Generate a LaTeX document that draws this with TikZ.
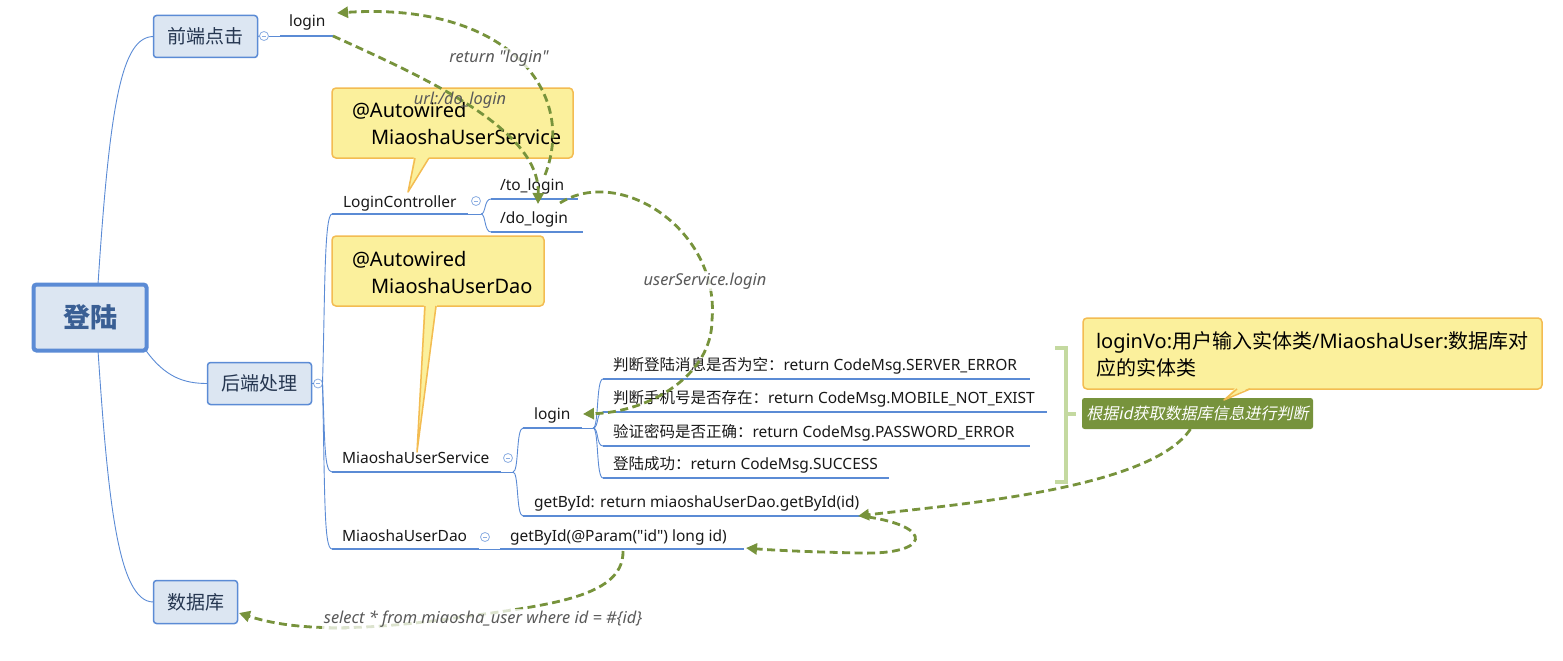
\documentclass[tikz,border=0pt]{standalone}
\usepackage{fontspec}
\setmainfont{Noto Sans}[Ligatures=TeXOff]
\newfontfamily\cjk{Noto Sans CJK SC}
\newfontfamily\cjkit[FakeSlant=0.2]{Noto Sans CJK SC}
\usetikzlibrary{arrows.meta}
\definecolor{bl}{HTML}{5B8BD5}
\definecolor{boxfill}{HTML}{DCE6F2}
\definecolor{roottxt}{HTML}{3A5F94}
\definecolor{boxtxt}{HTML}{253650}
\definecolor{gr}{HTML}{77933C}
\definecolor{callfill}{HTML}{FBF09C}
\definecolor{callline}{HTML}{F3BC52}
\definecolor{brk}{HTML}{C4D9A0}
\definecolor{lblgray}{HTML}{595959}
\newcommand{\dq}{\char34\relax}
\begin{document}
\begin{tikzpicture}[x=1pt,y=-1pt,
  every node/.style={inner sep=0pt, outer sep=0pt},
  br/.style={draw=bl, line width=0.9pt},
  ul/.style={draw=bl, line width=2.6pt},
  topic/.style={draw=bl, line width=1.5pt, fill=boxfill, rounded corners=3pt, text=boxtxt, font=\cjk\fontsize{19}{22}\selectfont},
  txt/.style={anchor=base west, font=\fontsize{15.5}{18}\selectfont, text=black!90},
  flow/.style={draw=gr, line width=2.8pt, dash pattern=on 8pt off 4.5pt, -{Triangle[length=11pt,width=11pt]}},
  ital/.style={font=\itshape\fontsize{16.4}{19}\selectfont, text=lblgray, fill=white, fill opacity=0.75, text opacity=1, inner sep=1.5pt},
  coll/.style={circle, draw=bl!70, fill=white, line width=0.8pt, minimum size=9pt},
  callout/.style={fill=callfill, draw=callline, line width=1.5pt, rounded corners=4pt},
  calltxt/.style={anchor=base west, font=\fontsize{20}{26}\selectfont, text=black}
]
\useasboundingbox (0,0) rectangle (1563,661);

% ---------- topics ----------
\node[topic, line width=4pt, minimum width=113pt, minimum height=66pt, text=roottxt, font=\cjk\bfseries\fontsize{27}{30}\selectfont] (root) at (90,317.5) {登陆};
\node[topic, minimum width=104pt, minimum height=42pt] (fe) at (205.5,36.5) {前端点击};
\node[topic, minimum width=104pt, minimum height=42pt] (be) at (259.5,383.5) {后端处理};
\node[topic, minimum width=84pt, minimum height=43pt] (db) at (195.5,602) {数据库};

% ---------- root connectors ----------
\draw[br] ([xshift=8pt]root.north) .. controls (110,100) and (122,37) .. (fe.west);
\draw[br] ([xshift=-2pt,yshift=2pt]root.south east) .. controls (165,378) and (185,383.5) .. (be.west);
\draw[br] ([xshift=8pt]root.south) .. controls (108,500) and (118,602) .. (db.west);

% ---------- front end ----------
\node[coll] (c1) at (264,36) {};
\draw[bl!70, line width=0.8pt] ([xshift=-2.2pt]c1.center) -- ([xshift=2.2pt]c1.center);
\coordinate (l0a) at (280,36);
\coordinate (l0b) at (333,36);
\draw[br] (fe.east) -- (c1.west);
\draw[br] (c1.east) -- (l0a);
\draw[ul] (l0a) -- (l0b);
\node[txt] (login0) at (289,27) {login};

% ---------- back end branches ----------
\node[coll] (c2) at (318,383.5) {};
\draw[bl!70, line width=0.8pt] ([xshift=-2.2pt]c2.center) -- ([xshift=2.2pt]c2.center);
\draw[br] (be.east) -- (c2.west);
\coordinate (lc0) at (332,214);
\coordinate (lc1) at (468,214);
\coordinate (ms0) at (332,472);
\coordinate (ms1) at (501,472);
\coordinate (md0) at (332,549);
\coordinate (md1) at (479,549);
\draw[br] (c2.east) .. controls (325,300) and (324,214) .. (lc0);
\draw[br] (c2.east) .. controls (325,440) and (324,472) .. (ms0);
\draw[br] (c2.east) .. controls (325,500) and (324,549) .. (md0);

% LoginController
\draw[ul] (lc0) -- (lc1);
\node[txt] (lc) at (343,207) {LoginController};
\node[coll] (c3) at (476,201) {};
\draw[bl!70, line width=0.8pt] ([xshift=-2.2pt]c3.center) -- ([xshift=2.2pt]c3.center);
\coordinate (lcj) at (481,214);
\coordinate (tl0) at (491,199);
\coordinate (tl1) at (578,199);
\coordinate (dl0) at (491,232);
\coordinate (dl1) at (583,232);
\draw[br] (lc1) -- (lcj);
\draw[br] (lcj) .. controls (486,214) and (484,199) .. (tl0);
\draw[br] (lcj) .. controls (486,214) and (484,232) .. (dl0);
\draw[ul] (tl0) -- (tl1);
\draw[ul] (dl0) -- (dl1);
\node[txt] (tol) at (500,190) {/to\_login};
\node[txt] (dol) at (500,223) {/do\_login};

% MiaoshaUserService
\draw[ul] (ms0) -- (ms1);
\node[txt] (ms) at (342,463) {MiaoshaUserService};
\node[coll] (c4) at (508,458) {};
\draw[bl!70, line width=0.8pt] ([xshift=-2.2pt]c4.center) -- ([xshift=2.2pt]c4.center);
\coordinate (msj) at (513,472);
\coordinate (li0) at (523,428);
\coordinate (li1) at (582,428);
\coordinate (gs0) at (523,516);
\coordinate (gs1) at (861,516);
\draw[br] (ms1) -- (msj);
\draw[br] (msj) .. controls (519,472) and (516,428) .. (li0);
\draw[br] (msj) .. controls (519,472) and (516,516) .. (gs0);
\draw[ul] (li0) -- (li1);
\draw[ul] (gs0) -- (gs1);
\node[txt] (login1) at (534,419) {login};
\node[txt] (gsid) at (534,507) {getById: return miaoshaUserDao.getById(id)};

% login children
\coordinate (lij) at (593,428);
\coordinate (k1a) at (603,379) ; \coordinate (k1b) at (1030,379);
\coordinate (k2a) at (603,412) ; \coordinate (k2b) at (1047,412);
\coordinate (k3a) at (603,446) ; \coordinate (k3b) at (1030,446);
\coordinate (k4a) at (603,478) ; \coordinate (k4b) at (889,478);
\draw[br] (li1) -- (lij);
\draw[br] (lij) .. controls (599,428) and (596,379) .. (k1a);
\draw[br] (lij) .. controls (599,428) and (596,412) .. (k2a);
\draw[br] (lij) .. controls (599,428) and (596,446) .. (k3a);
\draw[br] (lij) .. controls (599,428) and (596,478) .. (k4a);
\draw[ul] (k1a) -- (k1b);
\draw[ul] (k2a) -- (k2b);
\draw[ul] (k3a) -- (k3b);
\draw[ul] (k4a) -- (k4b);
\node[txt] (t1) at (613,370) {{\cjk 判断登陆消息是否为空：}return CodeMsg.SERVER\_ERROR};
\node[txt] (t2) at (613,403) {{\cjk 判断手机号是否存在：}return CodeMsg.MOBILE\_NOT\_EXIST};
\node[txt] (t3) at (613,437) {{\cjk 验证密码是否正确：}return CodeMsg.PASSWORD\_ERROR};
\node[txt] (t4) at (613,469) {{\cjk 登陆成功：}return CodeMsg.SUCCESS};

% MiaoshaUserDao
\coordinate (gd0) at (500,549);
\coordinate (gd1) at (744,549);
\draw[ul] (md0) -- (md1);
\draw[br] (md1) -- (gd0);
\draw[ul] (gd0) -- (gd1);
\node[txt] (md) at (342,541) {MiaoshaUserDao};
\node[coll] (c5) at (485,537) {};
\draw[bl!70, line width=0.8pt] ([xshift=-2.2pt]c5.center) -- ([xshift=2.2pt]c5.center);
\node[txt] (gdid) at (510,541) {getById(@Param(\dq id\dq) long id)};

% ---------- bracket and note ----------
\draw[brk, line width=4pt] (1055,348) -- (1066,348) -- (1066,482) -- (1055,482);
\draw[brk, line width=4pt] (1066,414) -- (1076,414);
\node[fill=gr, rounded corners=2.5pt, minimum width=231pt, minimum height=31pt, text=white, font=\cjkit\fontsize{16}{18}\selectfont] (note) at (1197.5,413.5) {根据id获取数据库信息进行判断};

% ---------- callouts ----------
\filldraw[callout] (332,88) rectangle (573,158);
\fill[callfill] (414,156) -- (408,192) -- (430,156) -- cycle;
\draw[callline, line width=1.5pt, line join=round] (415,158) -- (408,192) -- (429,158);
\node[calltxt] (co1a) at (352,117) {@Autowired};
\node[calltxt] (co1b) at (371,144) {MiaoshaUserService};

\filldraw[callout] (332,236) rectangle (544,306);
\fill[callfill] (424,304) -- (417,452) -- (437,304) -- cycle;
\draw[callline, line width=1.5pt, line join=round] (425,306) -- (417,452) -- (436,306);
\node[calltxt] (co2a) at (352,266) {@Autowired};
\node[calltxt] (co2b) at (371,293) {MiaoshaUserDao};

\filldraw[callout] (1083,318) rectangle (1542,389);
\fill[callfill] (1236,387) -- (1224,400) -- (1251,387) -- cycle;
\draw[callline, line width=1.5pt, line join=round] (1237,389) -- (1224,400) -- (1250,389);
\node[calltxt] (co3a) at (1096,348) {loginVo:{\cjk 用户输入实体类}/MiaoshaUser:{\cjk 数据库对}};
\node[calltxt] (co3b) at (1096,375) {\cjk 应的实体类};

% ---------- flows ----------
\coordinate (toDo) at (538,204);
\coordinate (tlS) at (545,175);
\coordinate (l0t) at (337,13);
\coordinate (usS) at (560,203);
\coordinate (liT) at (583,414);
\coordinate (gsT) at (858,516);
\coordinate (gsS) at (868,517);
\coordinate (gdT) at (746,548);
\coordinate (gdS) at (623,551);
\coordinate (dbT) at (239,613);
\draw[flow] (l0b) .. controls (430,80) and (540,130) .. (toDo);
\draw[flow] (tlS) .. controls (578,90) and (505,2) .. (l0t);
\draw[flow] (usS) .. controls (620,165) and (720,230) .. (712,320) .. controls (712,375) and (650,412) .. (liT);
\draw[flow] ([xshift=-7pt]note.south) .. controls (1150,490) and (950,505) .. (gsT);
\draw[flow] (gsS) .. controls (935,527) and (930,555) .. (860,553) .. controls (810,552) and (770,550) .. (gdT);
\draw[flow] (gdS) .. controls (624,600) and (540,606) .. (440,620) .. controls (340,633) and (285,628) .. (dbT);

% ---------- flow labels ----------
\node[ital] (lab1) at (499,58) {return \dq login\dq};
\node[ital, fill opacity=0] (lab2) at (460,100) {url:/do\_login};
\node[ital] (lab3) at (705,281) {userService.login};
\node[ital] (lab4) at (483,619) {select * from miaosha\_user where id = \#\{id\}};
\end{tikzpicture}
\end{document}
